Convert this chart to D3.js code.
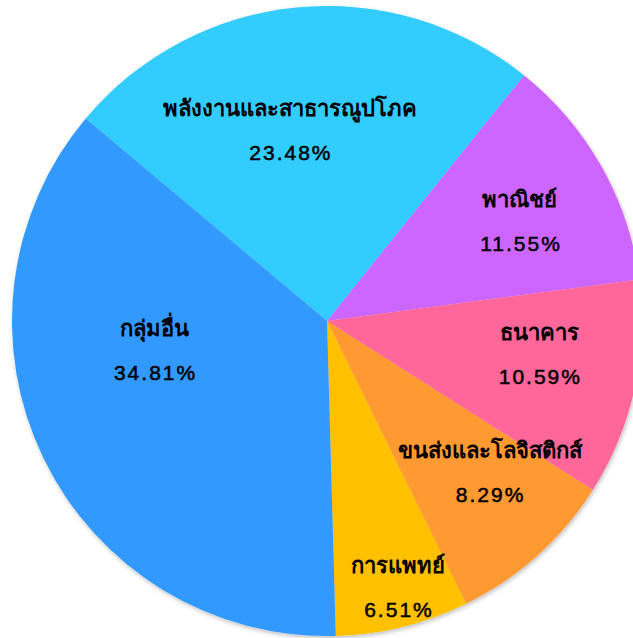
<!DOCTYPE html>
<html lang="th">
<head>
<meta charset="utf-8">
<title>สัดส่วนตามกลุ่มอุตสาหกรรม</title>
<script src="https://cdn.jsdelivr.net/npm/d3@7"></script>
<style>
  html, body { margin: 0; padding: 0; background: #fff; overflow: hidden; }
  svg { display: block; }
  .name { font-family: "Liberation Sans", "DejaVu Sans", "Noto Sans", sans-serif; font-weight: bold; font-size: 22px; fill: #000; }
  .pct { font-family: "Liberation Sans", Arial, sans-serif; font-size: 21px; letter-spacing: 2px; fill: #000; stroke: #000; stroke-width: 0.5px; }
</style>
</head>
<body>
<div id="chart"></div>
<script>
// sector names and their shares (%)
var sectors = ["พลังงานและสาธารณูปโภค", "พาณิชย์", "ธนาคาร", "ขนส่งและโลจิสติกส์", "การแพทย์", "กลุ่มอื่น"];
var shares = [23.48, 11.55, 10.59, 8.29, 6.51, 34.81];
var colors = ["#33ccff", "#cc66ff", "#ff6699", "#ff9933", "#ffc000", "#3399ff"];

// label placement tweaks (best-fit style), degrees off slice middle and radius
var labelTurn = [-5.4, 2.2, -3.4, -5.2, -1, 16];
var labelRad = [194, 217, 215, 222, 276, 175];

var width = 633, height = 638;
var cx = 327, cy = 321, radius = 315;

var svg = d3.select("#chart").append("svg")
    .attr("width", width)
    .attr("height", height);

var defs = svg.append("defs");
var f = defs.append("filter").attr("id", "shadow")
    .attr("x", "-10%").attr("y", "-10%").attr("width", "120%").attr("height", "120%");
f.append("feDropShadow")
    .attr("dx", 1).attr("dy", 2).attr("stdDeviation", 2)
    .attr("flood-color", "#000").attr("flood-opacity", 0.25);

var g = svg.append("g").attr("transform", "translate(" + cx + "," + cy + ")");

var rad = Math.PI / 180;
var pie = d3.pie().sort(null).value(function(d) { return d; })
    .startAngle(-50 * rad).endAngle(310 * rad);
var arcs = pie(shares);

var arc = d3.arc().innerRadius(0).outerRadius(radius);

g.append("g").attr("filter", "url(#shadow)")
  .selectAll("path")
  .data(arcs)
  .enter().append("path")
    .attr("d", arc)
    .attr("fill", function(d, i) { return colors[i]; });

var labels = g.selectAll("g.label")
  .data(arcs)
  .enter().append("g")
    .attr("class", "label")
    .attr("transform", function(d, i) {
        var a = (d.startAngle + d.endAngle) / 2 + labelTurn[i] * rad;
        var la = d3.arc().innerRadius(labelRad[i]).outerRadius(labelRad[i]);
        var c = la.centroid({ startAngle: a, endAngle: a });
        return "translate(" + c[0] + "," + c[1] + ")";
    });

labels.append("text")
    .attr("class", "name")
    .attr("text-anchor", "middle")
    .attr("y", -22)
    .attr("dy", "0.35em")
    .text(function(d, i) { return sectors[i]; });

labels.append("text")
    .attr("class", "pct")
    .attr("text-anchor", "middle")
    .attr("x", 1)
    .attr("y", 22)
    .attr("dy", "0.35em")
    .text(function(d) { return d3.format(".2f")(d.value) + "%"; });
</script>
</body>
</html>
